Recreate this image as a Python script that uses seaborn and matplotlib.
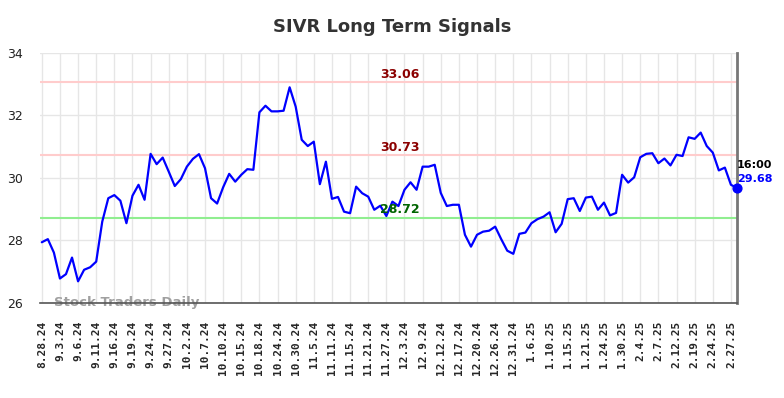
import matplotlib
matplotlib.use('Agg')
import matplotlib.pyplot as plt
import seaborn as sns
import numpy as np
import pandas as pd

# 틱 라벨 (3 거래일마다)
tick_labels = ['8.28.24', '9.3.24', '9.6.24', '9.11.24', '9.16.24', '9.19.24', '9.24.24',
               '9.27.24', '10.2.24', '10.7.24', '10.10.24', '10.15.24', '10.18.24',
               '10.24.24', '10.30.24', '11.5.24', '11.11.24', '11.15.24', '11.21.24',
               '11.27.24', '12.3.24', '12.9.24', '12.12.24', '12.17.24', '12.20.24',
               '12.26.24', '12.31.24', '1.6.25', '1.10.25', '1.15.25', '1.21.25',
               '1.24.25', '1.30.25', '2.4.25', '2.7.25', '2.12.25', '2.19.25',
               '2.24.25', '2.27.25']

# 종가
prices = [27.94, 28.04, 27.61, 26.78, 26.92, 27.45, 26.69, 27.06, 27.14, 27.32,
          28.60, 29.35, 29.45, 29.27, 28.55, 29.43, 29.78, 29.30, 30.77, 30.44,
          30.65, 30.20, 29.74, 29.96, 30.36, 30.61, 30.76, 30.31, 29.35, 29.18,
          29.70, 30.13, 29.88, 30.10, 30.28, 30.26, 32.10, 32.31, 32.13, 32.13,
          32.15, 32.90, 32.28, 31.22, 31.02, 31.16, 29.80, 30.52, 29.33, 29.39,
          28.92, 28.87, 29.72, 29.51, 29.40, 28.98, 29.11, 28.78, 29.24, 29.10,
          29.62, 29.86, 29.62, 30.36, 30.36, 30.42, 29.52, 29.10, 29.14, 29.14,
          28.18, 27.80, 28.18, 28.28, 28.31, 28.44, 28.04, 27.67, 27.57, 28.21,
          28.25, 28.55, 28.68, 28.76, 28.90, 28.26, 28.53, 29.32, 29.35, 28.94,
          29.37, 29.40, 28.98, 29.21, 28.80, 28.88, 30.10, 29.85, 30.02, 30.66,
          30.77, 30.79, 30.47, 30.62, 30.40, 30.74, 30.70, 31.30, 31.25, 31.45,
          31.02, 30.81, 30.24, 30.33, 29.78, 29.68]

# 신호 레벨
resistance_levels = [33.06, 30.73]
support_levels = [28.72]
last_time = '16:00'

df = pd.DataFrame({'idx': np.arange(len(prices)), 'price': prices})

sns.set_style('whitegrid')
plt.rcParams['font.family'] = ['DejaVu Sans']

fig = plt.figure(figsize=(7.84, 3.98), dpi=100)
ax = fig.add_axes([0.051, 0.239, 0.889, 0.628])

for lvl in resistance_levels:
    ax.axhline(lvl, color='#ffcccc', lw=1.5, zorder=1)
for lvl in support_levels:
    ax.axhline(lvl, color='#90ee90', lw=1.5, zorder=1)

sns.lineplot(data=df, x='idx', y='price', color='#0000ff', lw=1.6, ax=ax, zorder=3)

last_x = df['idx'].iloc[-1]
last_y = df['price'].iloc[-1]
ax.scatter([last_x], [last_y], color='#0000ff', s=40, zorder=4, clip_on=False)

mid_x = 59.2
for lvl in resistance_levels:
    ax.text(mid_x, lvl + 0.05, f'{lvl:.2f}', color='#8b0000', fontsize=9,
            fontweight='bold', ha='center', va='bottom', zorder=5)
for lvl in support_levels:
    ax.text(mid_x, lvl + 0.05, f'{lvl:.2f}', color='#006400', fontsize=9,
            fontweight='bold', ha='center', va='bottom', zorder=5)

ax.annotate(last_time, (last_x, last_y), xytext=(0, 13), textcoords='offset points',
            fontsize=8, fontweight='bold', color='black', ha='left', va='bottom',
            annotation_clip=False)
ax.annotate(f'{last_y:.2f}', (last_x, last_y), xytext=(0, 3), textcoords='offset points',
            fontsize=8, fontweight='bold', color='#0000ff', ha='left', va='bottom',
            annotation_clip=False)

ax.text(2.1, 26.0, 'Stock Traders Daily', fontsize=9.5, fontweight='bold',
        color='#a0a0a0', ha='left', va='center', zorder=2, clip_on=False)

ax.set_xlim(-0.3, len(prices) - 1)
ax.set_ylim(26, 34)
ax.set_yticks([26, 28, 30, 32, 34])
ax.set_xticks(np.arange(0, len(tick_labels) * 3, 3))
ax.set_xticklabels(tick_labels, rotation=90, fontsize=8, fontweight='bold',
                   family='DejaVu Sans Mono')
ax.tick_params(axis='x', length=0, pad=13)
ax.tick_params(axis='y', length=0, pad=12, labelsize=9, labelcolor='#222222')
ax.set_xlabel('')
ax.set_ylabel('')
ax.grid(True, color='#e6e6e6', lw=1)

ax.spines['top'].set_visible(False)
ax.spines['left'].set_visible(False)
ax.spines['bottom'].set_color('#555555')
ax.spines['bottom'].set_linewidth(1.2)
ax.spines['right'].set_color('#777777')
ax.spines['right'].set_linewidth(2)

fig.suptitle('SIVR Long Term Signals', fontsize=13, fontweight='bold', color='#333333',
             y=0.955)

fig.savefig('out.png', dpi=100)
plt.close(fig)
